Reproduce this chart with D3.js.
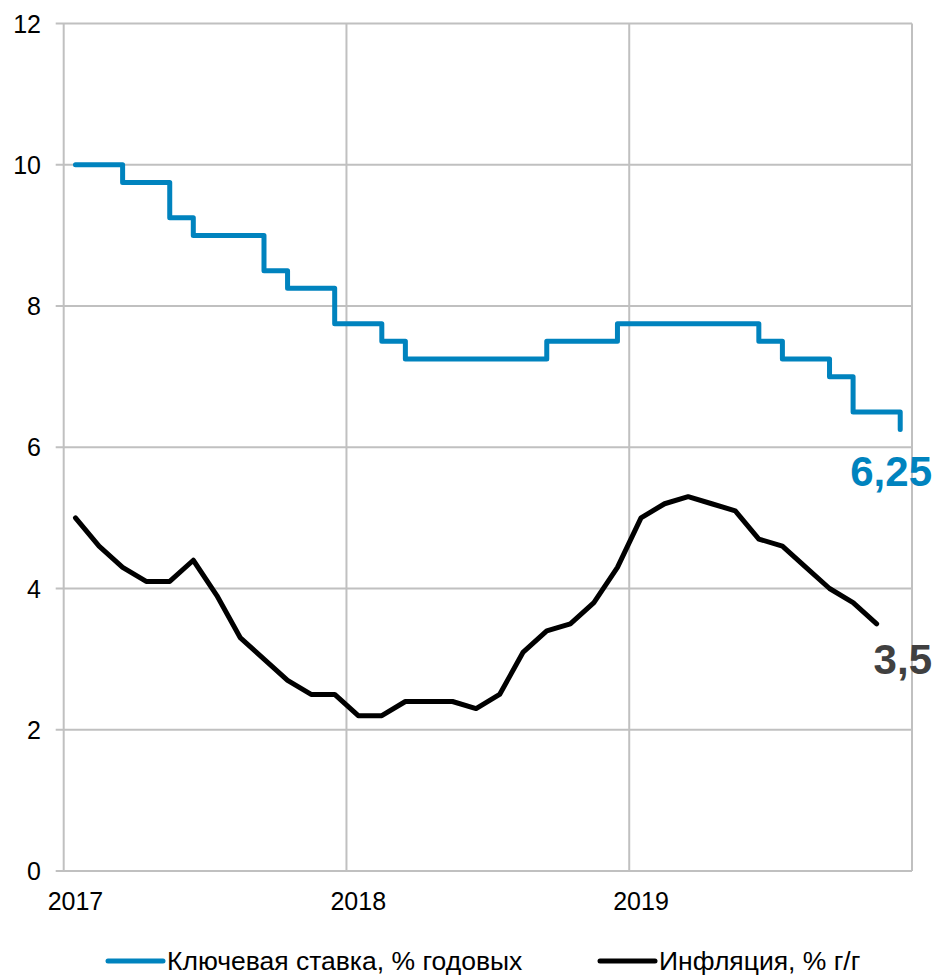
<!DOCTYPE html>
<html>
<head>
<meta charset="utf-8">
<script src="https://cdn.jsdelivr.net/npm/d3@7"></script>
<style>
  html, body { margin: 0; padding: 0; background: #fff; }
  svg { display: block; font-family: "Liberation Sans", Arial, sans-serif; }
</style>
</head>
<body>
<svg id="chart" width="935" height="977"></svg>
<script>
// ---- data ----
const months = [
  "2017-01","2017-02","2017-03","2017-04","2017-05","2017-06","2017-07","2017-08","2017-09","2017-10","2017-11","2017-12",
  "2018-01","2018-02","2018-03","2018-04","2018-05","2018-06","2018-07","2018-08","2018-09","2018-10","2018-11","2018-12",
  "2019-01","2019-02","2019-03","2019-04","2019-05","2019-06","2019-07","2019-08","2019-09","2019-10","2019-11","2019-12"
];
const keyRate = [
  10, 10, 9.75, 9.75, 9.25, 9, 9, 9, 8.5, 8.25, 8.25, 7.75,
  7.75, 7.5, 7.25, 7.25, 7.25, 7.25, 7.25, 7.25, 7.5, 7.5, 7.5, 7.75,
  7.75, 7.75, 7.75, 7.75, 7.75, 7.5, 7.25, 7.25, 7, 6.5, 6.5, 6.25
];
const inflation = [
  5.0, 4.6, 4.3, 4.1, 4.1, 4.4, 3.9, 3.3, 3.0, 2.7, 2.5, 2.5,
  2.2, 2.2, 2.4, 2.4, 2.4, 2.3, 2.5, 3.1, 3.4, 3.5, 3.8, 4.3,
  5.0, 5.2, 5.3, 5.2, 5.1, 4.7, 4.6, 4.3, 4.0, 3.8, 3.5
];
const yearLabels = ["2017", "2018", "2019"];
const yTicks = [0, 2, 4, 6, 8, 10, 12];
const seriesNames = ["Ключевая ставка, % годовых", "Инфляция, % г/г"];
const endLabels = ["6,25", "3,5"];

// ---- layout ----
const svg = d3.select("#chart");
const mLeft = 63.7, mRight = 912, mTop = 23.5, mBottom = 871;
const blue = "#0083BE", black = "#000000", grid = "#C0C0C0";

const x = d3.scaleBand().domain(months).range([mLeft, mRight]).padding(0);
const cx = m => x(m) + x.bandwidth() / 2;
const y = d3.scaleLinear().domain([0, 12]).range([mBottom, mTop]);

// horizontal gridlines + small ticks
svg.append("g").selectAll("line").data(yTicks).join("line")
  .attr("x1", mLeft - 8).attr("x2", mRight)
  .attr("y1", d => y(d)).attr("y2", d => y(d))
  .attr("stroke", grid).attr("stroke-width", 2);

// vertical gridlines at year boundaries
const yearStarts = yearLabels.map(yl => x(yl + "-01")).concat([mRight]);
svg.append("g").selectAll("line").data(yearStarts).join("line")
  .attr("x1", d => d).attr("x2", d => d)
  .attr("y1", mTop).attr("y2", mBottom)
  .attr("stroke", grid).attr("stroke-width", 2);

// y tick labels
svg.append("g").selectAll("text").data(yTicks).join("text")
  .attr("x", 41).attr("y", d => y(d))
  .attr("text-anchor", "end").attr("dominant-baseline", "central")
  .attr("font-size", 25).attr("fill", "#000")
  .text(d => d);

// x labels (centered on first month of each year)
svg.append("g").selectAll("text").data(yearLabels).join("text")
  .attr("x", d => cx(d + "-01")).attr("y", 910)
  .attr("text-anchor", "middle")
  .attr("font-size", 25).attr("fill", "#000")
  .text(d => d);

// key rate step line
const stepLine = d3.line()
  .x((d, i) => cx(months[i])).y(d => y(d))
  .curve(d3.curveStepAfter);
svg.append("path").datum(keyRate)
  .attr("d", stepLine)
  .attr("fill", "none").attr("stroke", blue).attr("stroke-width", 5)
  .attr("stroke-linejoin", "round").attr("stroke-linecap", "round");

// inflation line
const infLine = d3.line()
  .x((d, i) => cx(months[i])).y(d => y(d));
svg.append("path").datum(inflation)
  .attr("d", infLine)
  .attr("fill", "none").attr("stroke", black).attr("stroke-width", 5)
  .attr("stroke-linejoin", "round").attr("stroke-linecap", "round");

// end labels
const lastK = keyRate.length - 1, lastI = inflation.length - 1;
svg.append("text")
  .attr("x", 932).attr("y", y(keyRate[lastK]) + 56)
  .attr("text-anchor", "end").attr("font-size", 42).attr("font-weight", "bold")
  .attr("fill", blue).text(endLabels[0]);
svg.append("text")
  .attr("x", 932).attr("y", y(inflation[lastI]) + 50)
  .attr("text-anchor", "end").attr("font-size", 42).attr("font-weight", "bold")
  .attr("fill", "#404040").text(endLabels[1]);

// legend
const legend = [
  { name: seriesNames[0], color: blue, x0: 108 },
  { name: seriesNames[1], color: black, x0: 600 }
];
const lg = svg.append("g");
legend.forEach(l => {
  lg.append("line").attr("x1", l.x0).attr("x2", l.x0 + 55)
    .attr("y1", 961).attr("y2", 961)
    .attr("stroke", l.color).attr("stroke-width", 5).attr("stroke-linecap", "round");
  lg.append("text").attr("x", l.x0 + 59).attr("y", 970)
    .attr("font-size", 26.5).attr("fill", "#000").text(l.name);
});
</script>
</body>
</html>
